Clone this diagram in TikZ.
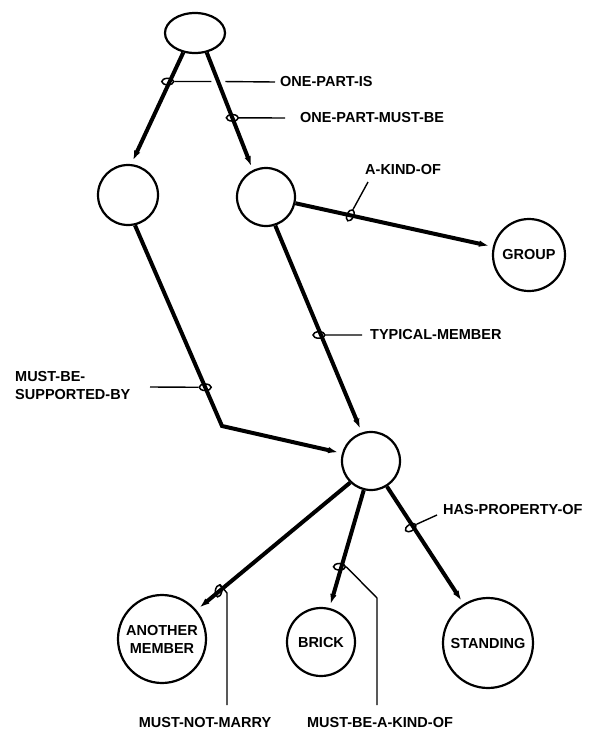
\documentclass[tikz,border=0pt]{standalone}
\usepackage{fontspec}
\setmainfont{Liberation Sans}
\usetikzlibrary{arrows.meta,shapes.geometric}
\begin{document}
\begin{tikzpicture}[x=1pt,y=-1pt,
  txt/.style={font=\bfseries\fontsize{14.5}{18}\selectfont, inner sep=0pt},
  concept/.style={circle, draw, line width=2.2pt, minimum size=#1, inner sep=0pt, txt, align=center},
  edge/.style={line width=4pt, -{Latex[length=14pt,width=6pt]}},
  lead/.style={line width=1.4pt},
  ring/.style={ellipse, draw, line width=1.5pt, minimum width=12pt, minimum height=6.5pt, inner sep=0pt}]
\useasboundingbox (0,0) rectangle (594,731);

% concept nodes
\node[ellipse, draw, line width=2.2pt, minimum width=60pt, minimum height=40pt] (top) at (195,33) {};
\node[concept=60pt] (L) at (128,195) {};
\node[concept=58pt] (R) at (266,197) {};
\node[concept=72pt] (G) at (529,255) {GROUP};
\node[concept=58pt] (H) at (371,461) {};
\node[concept=88pt] (A) at (162,639) {ANOTHER\\MEMBER};
\node[concept=68pt] (B) at (321,642) {BRICK};
\node[concept=90pt] (S) at (488,643) {STANDING};

% edges
\coordinate (bend) at (222,426);
\draw[edge] (top.239) -- coordinate[pos=0.26] (p1) (L.84);
\draw[edge] (top.301) -- coordinate[pos=0.556] (p2) (R.116);
\draw[edge] (R.348) -- coordinate[pos=0.278] (p3) (G.167);
\draw[edge] (R.288) -- coordinate[pos=0.529] (p4) (H.108);
\draw[edge] (L.283) -- coordinate[pos=0.807] (p5) (bend) -- (H.165);
\draw[edge] (H.302) -- coordinate[pos=0.35] (p6) (S.122);
\draw[edge] (H.226) -- coordinate[pos=0.85] (p7) (A.40);
\draw[edge] (H.256) -- coordinate[pos=0.65] (p8) (B.76);

% loops
\node[ring] (lp1) at ([xshift=-2pt]p1) {};
\node[ring] (lp2) at (p2) {};
\node[ring, rotate=65] (lp3) at (p3) {};
\node[ring] (lp4) at ([xshift=-2pt]p4) {};
\node[ring] (lp5) at (p5) {};
\node[ring, rotate=30] (lp6) at ([xshift=-3pt]p6) {};
\node[ring, rotate=80] (lp7) at ([xshift=-1pt]p7) {};
\node[ring] (lp8) at ([xshift=-2pt]p8) {};

% labels
\node[txt, anchor=west] (t1) at (280,82) {ONE-PART-IS};
\node[txt, anchor=west] (t2) at (300,118) {ONE-PART-MUST-BE};
\node[txt, anchor=west] (t3) at (365,170) {A-KIND-OF};
\node[txt, anchor=west] (t4) at (370,335) {TYPICAL-MEMBER};
\node[txt, anchor=west, align=left] (t5) at (15,386) {MUST-BE-\\SUPPORTED-BY};
\node[txt, anchor=west] (t6) at (443,510) {HAS-PROPERTY-OF};
\node[txt] (t7) at (205,722) {MUST-NOT-MARRY};
\node[txt] (t8) at (380,722) {MUST-BE-A-KIND-OF};

% leader ends
\coordinate (c3) at (368,182);
\coordinate (c5) at (150,387);
\coordinate (c6) at (437,515);
\coordinate (c7a) at (227,593);
\coordinate (c7b) at (227,705);
\coordinate (c8a) at (377,598);
\coordinate (c8b) at (377,705);

% leaders
\draw[lead] (lp1.east) -- ++(37,0) ++(14,0) -- ([xshift=-5pt]t1.west);
\draw[lead] (lp2.east) -- ([xshift=-15pt]t2.west);
\draw[lead] (lp3.east) -- (c3);
\draw[lead] (lp4.east) -- ([xshift=-8pt]t4.west);
\draw[lead] (c5) -- (lp5.west);
\draw[lead] (lp6.east) -- (c6);
\draw[lead] (lp7.east) -- (c7a) -- (c7b);
\draw[lead] (lp8.east) -- (c8a) -- (c8b);
\end{tikzpicture}
\end{document}
